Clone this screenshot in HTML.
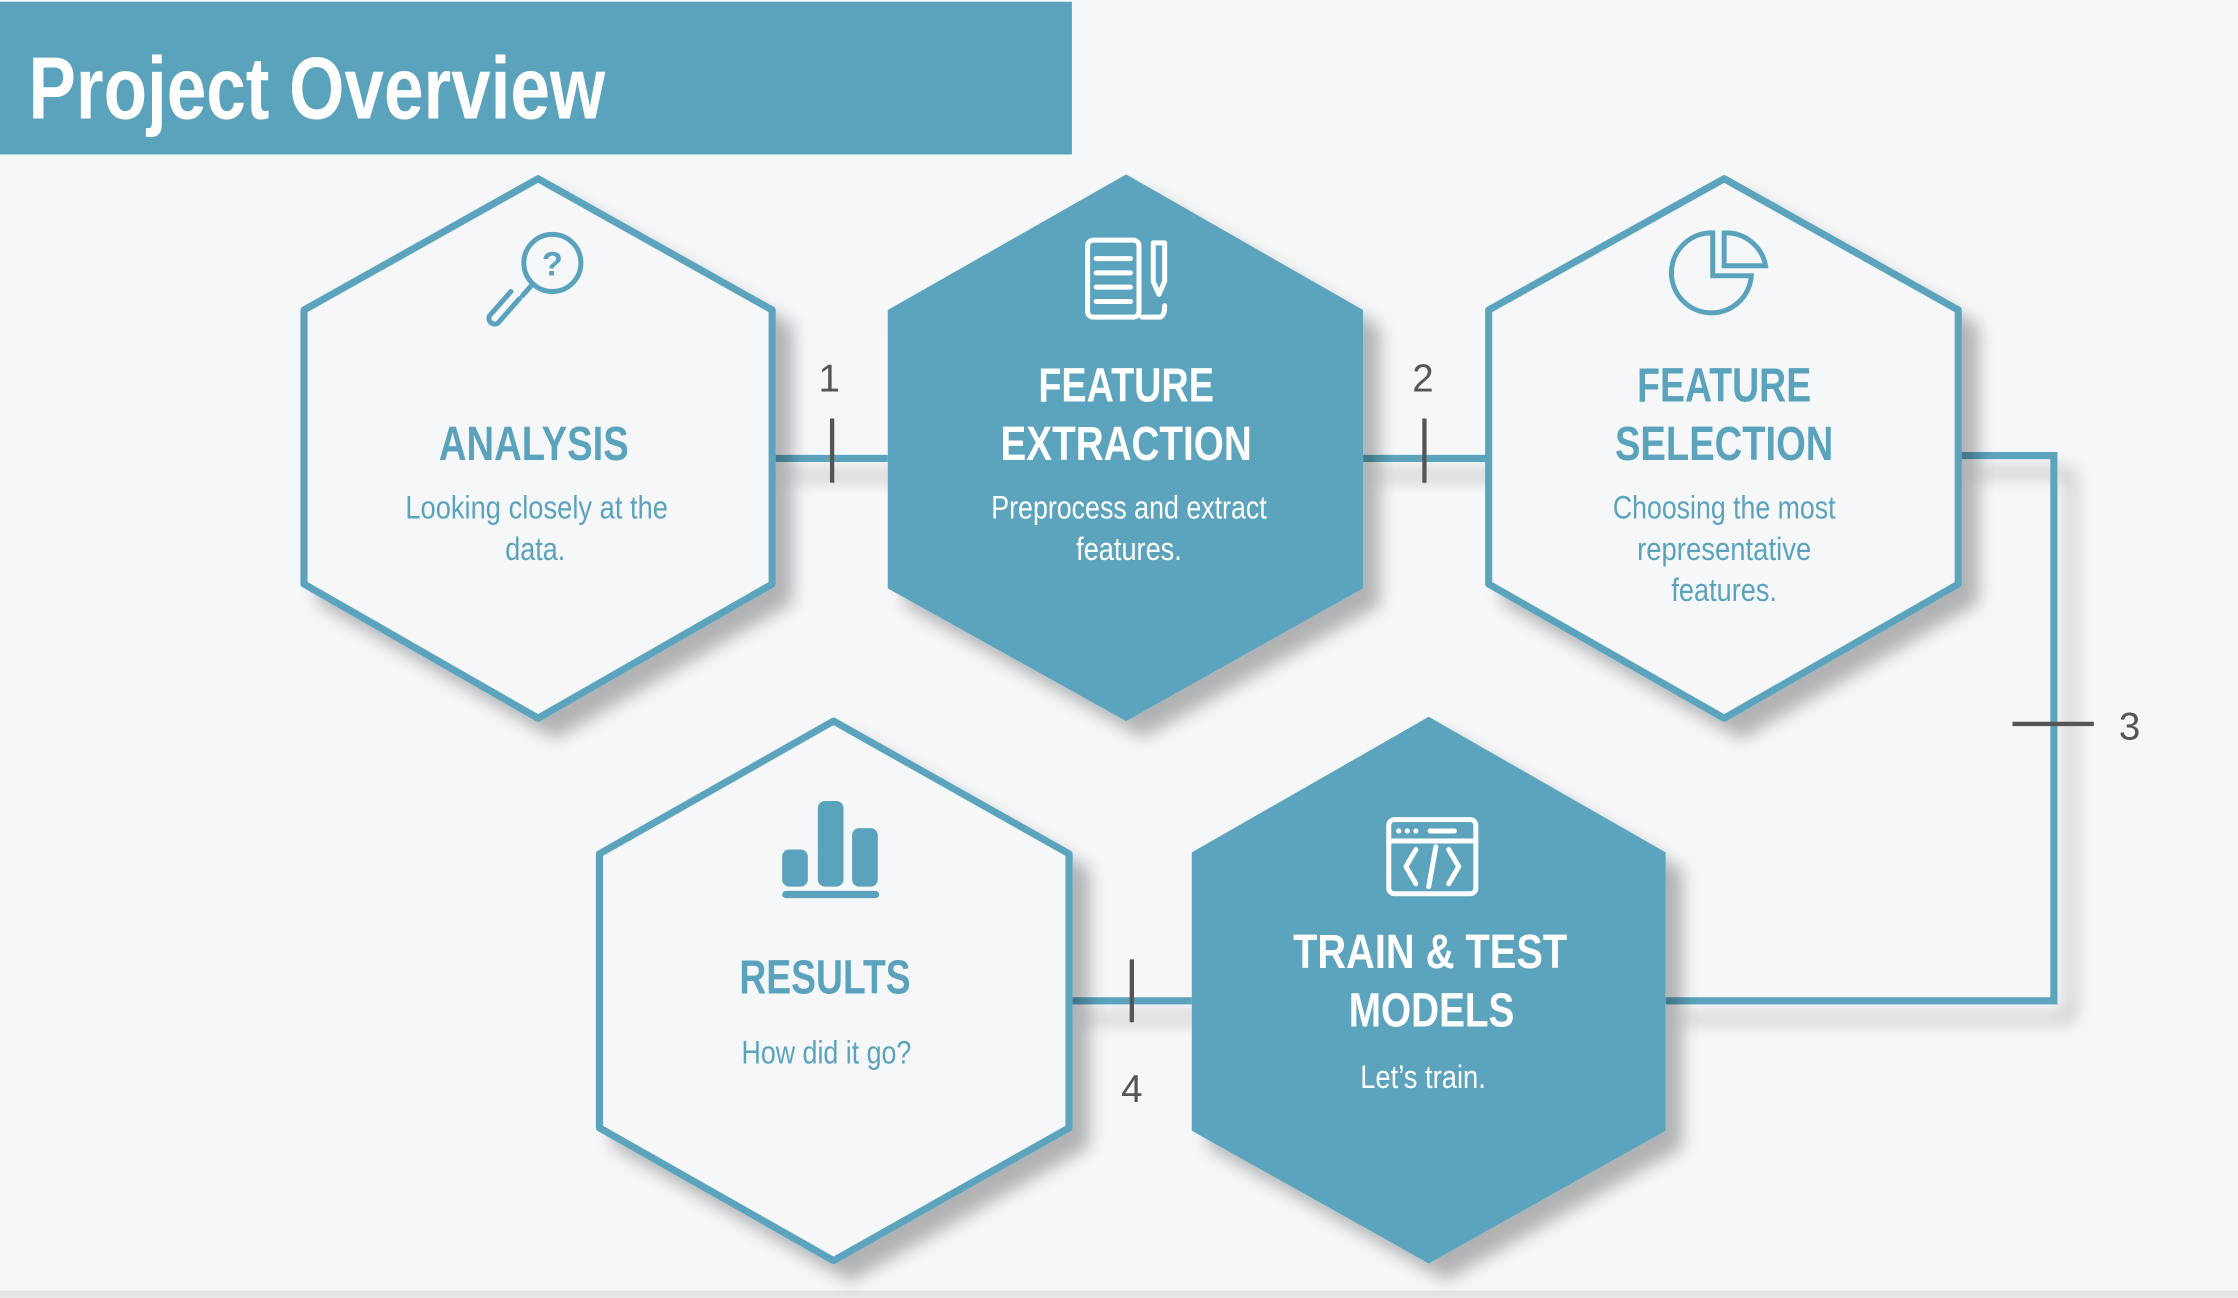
<!DOCTYPE html>
<html><head><meta charset="utf-8"><style>
html,body{margin:0;padding:0;background:#f5f7f9;}
svg{display:block;}
text{font-family:"Liberation Sans Narrow","Liberation Sans",sans-serif;}
</style></head><body>
<svg width="2238" height="1298" viewBox="0 0 1568 909" xmlns="http://www.w3.org/2000/svg">
<defs>
<filter id="sh" x="-20%" y="-20%" width="150%" height="150%">
<feGaussianBlur in="SourceAlpha" stdDeviation="6"/>
<feOffset dx="12" dy="12"/>
<feComponentTransfer><feFuncA type="linear" slope="0.28"/></feComponentTransfer>
<feMerge><feMergeNode/><feMergeNode in="SourceGraphic"/></feMerge>
</filter>
</defs>
<rect width="1568" height="909" fill="#f5f7f9"/>
<rect x="0" y="904" width="1568" height="5" fill="#e2e4e6"/>
<rect x="0" y="1" width="751" height="107" fill="#5ba3bd"/>
<text x="20" y="83" font-size="62" font-weight="bold" fill="#fff" textLength="404" lengthAdjust="spacingAndGlyphs">Project Overview</text>

<g stroke="#5ba3bd" stroke-width="5" fill="none" filter="url(#sh)">
<line x1="541" y1="321" x2="622" y2="321"/>
<line x1="955" y1="321" x2="1043" y2="321"/>
<polyline points="1372,319 1439,319 1439,701 1167,701"/>
<line x1="749" y1="701" x2="835" y2="701"/>
</g>
<g stroke="#555" stroke-width="3">
<line x1="583" y1="293" x2="583" y2="338"/>
<line x1="998" y1="293" x2="998" y2="338"/>
<line x1="1410" y1="507" x2="1467" y2="507"/>
<line x1="793" y1="672" x2="793" y2="716"/>
</g>
<g fill="#555" font-size="27" text-anchor="middle">
<text x="581" y="274">1</text>
<text x="997" y="274">2</text>
<text x="1492" y="518">3</text>
<text x="793" y="772">4</text>
</g>

<g filter="url(#sh)">
<polygon points="377,125 541,217 541,409 377,503 213,409 213,217" fill="#f5f7f9" stroke="#5ba3bd" stroke-width="5" stroke-linejoin="round"/>
<polygon points="789,122 955,217 955,412 789,505 622,412 622,217" fill="#5ba3bd"/>
<polygon points="1208,125 1372,217 1372,409 1208,503 1043,409 1043,217" fill="#f5f7f9" stroke="#5ba3bd" stroke-width="5" stroke-linejoin="round"/>
<polygon points="584,505 749,598 749,790 584,883 420,790 420,598" fill="#f5f7f9" stroke="#5ba3bd" stroke-width="5" stroke-linejoin="round"/>
<polygon points="1001,502 1167,597 1167,792 1001,885 835,792 835,597" fill="#5ba3bd"/>
</g>

<g stroke="#5ba3bd" stroke-width="3.5" fill="none" stroke-linecap="round">
<circle cx="387" cy="184" r="20"/>
<line x1="373" y1="199" x2="366" y2="207"/>
<path d="M364,209 L349,226 A4,4 0 0,1 343,221 L358,204"/>
<text x="387" y="193" font-size="24" fill="#5ba3bd" stroke="none" text-anchor="middle" font-weight="bold">?</text>
<path d="M1200,183 L1200,163 A28,28 0 1,0 1227,193 L1200,193 Z" />
<path d="M1208,186 L1208,163 A28,28 0 0,1 1237,186 Z"/>
</g>
<g fill="#5ba3bd">
<rect x="548" y="595" width="18" height="26" rx="5"/>
<rect x="573" y="561" width="18" height="60" rx="5"/>
<rect x="597" y="580" width="18" height="41" rx="5"/>
<rect x="548" y="624" width="68" height="5" rx="2.5"/>
</g>
<g stroke="#fff" stroke-width="3.5" fill="none" stroke-linecap="round" stroke-linejoin="round">
<rect x="762" y="168" width="36" height="54" rx="4"/>
<line x1="768" y1="181" x2="792" y2="181"/><line x1="768" y1="191" x2="792" y2="191"/><line x1="768" y1="201" x2="792" y2="201"/><line x1="768" y1="211" x2="792" y2="211"/>
<path d="M808,170 L808,197 L812,206 L816,197 L816,170 Z"/>
<path d="M800,222 L812,222 Q816,222 816,214"/>
<rect x="973" y="574" width="61" height="52" rx="4"/>
<line x1="973" y1="589" x2="1034" y2="589"/>
<line x1="1002" y1="582" x2="1019" y2="582"/>
<polyline points="992,595 985,607 992,619"/>
<polyline points="1015,595 1022,607 1015,619"/>
<line x1="1006" y1="593" x2="1001" y2="621"/>
</g>
<g fill="#fff"><circle cx="980" cy="582" r="1.8"/><circle cx="986" cy="582" r="1.8"/><circle cx="992" cy="582" r="1.8"/></g>

<g text-anchor="middle" font-weight="bold" font-size="34">
<text x="374" y="322" fill="#5ba3bd" textLength="133" lengthAdjust="spacingAndGlyphs">ANALYSIS</text>
<text x="789" y="281" fill="#fff" textLength="123" lengthAdjust="spacingAndGlyphs">FEATURE</text>
<text x="789" y="322" fill="#fff" textLength="176" lengthAdjust="spacingAndGlyphs">EXTRACTION</text>
<text x="1208" y="281" fill="#5ba3bd" textLength="122" lengthAdjust="spacingAndGlyphs">FEATURE</text>
<text x="1208" y="322" fill="#5ba3bd" textLength="153" lengthAdjust="spacingAndGlyphs">SELECTION</text>
<text x="578" y="696" fill="#5ba3bd" textLength="120" lengthAdjust="spacingAndGlyphs">RESULTS</text>
<text x="1002" y="678" fill="#fff" textLength="192" lengthAdjust="spacingAndGlyphs">TRAIN &amp; TEST</text>
<text x="1003" y="719" fill="#fff" textLength="116" lengthAdjust="spacingAndGlyphs">MODELS</text>
</g>
<g text-anchor="middle" font-size="23">
<text x="376" y="363" fill="#5ba3bd" textLength="184" lengthAdjust="spacingAndGlyphs">Looking closely at the</text>
<text x="375" y="392" fill="#5ba3bd" textLength="42" lengthAdjust="spacingAndGlyphs">data.</text>
<text x="791" y="363" fill="#fff" textLength="193" lengthAdjust="spacingAndGlyphs">Preprocess and extract</text>
<text x="791" y="392" fill="#fff" textLength="74" lengthAdjust="spacingAndGlyphs">features.</text>
<text x="1208" y="363" fill="#5ba3bd" textLength="156" lengthAdjust="spacingAndGlyphs">Choosing the most</text>
<text x="1208" y="392" fill="#5ba3bd" textLength="122" lengthAdjust="spacingAndGlyphs">representative</text>
<text x="1208" y="421" fill="#5ba3bd" textLength="74" lengthAdjust="spacingAndGlyphs">features.</text>
<text x="579" y="745" fill="#5ba3bd" textLength="119" lengthAdjust="spacingAndGlyphs">How did it go?</text>
<text x="997" y="762" fill="#fff" textLength="88" lengthAdjust="spacingAndGlyphs">Let’s train.</text>
</g>
</svg>
</body></html>
